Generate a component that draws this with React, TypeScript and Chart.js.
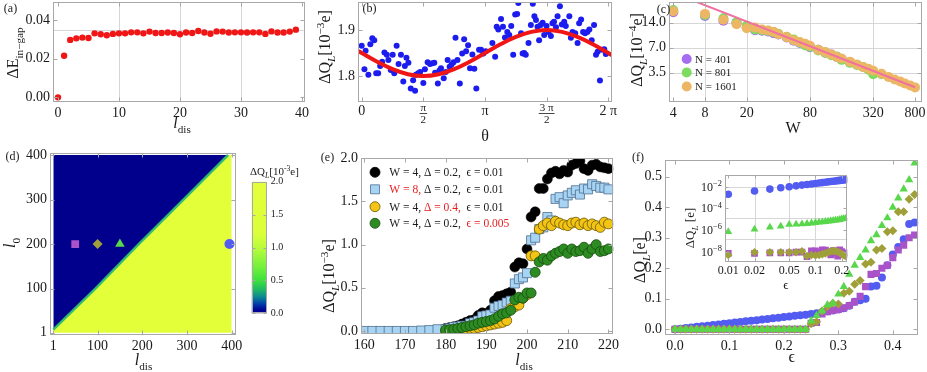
import React, { useEffect, useRef } from 'react';
import { Chart, registerables } from 'chart.js';

Chart.register(...registerables);

const FONT = '"Liberation Serif", "DejaVu Serif", serif';
const TXT = '#1a1a1a';
const FRAME = '#a8a8a8';

// ================= DATA =================
// (a)
const aLdis = [0, 1, 2, 3, 4, 5, 6, 7, 8, 9, 10, 11, 12, 13, 14, 15, 16, 17, 18, 19, 20, 21, 22, 23, 24, 25, 26, 27, 28, 29, 30, 31, 32, 33, 34, 35, 36, 37, 38, 39];
const aGap = [0, 0.0215, 0.0297, 0.0305, 0.0309, 0.0307, 0.0331, 0.0326, 0.0321, 0.0328, 0.0331, 0.0331, 0.0336, 0.0336, 0.0331, 0.034, 0.0333, 0.0333, 0.0335, 0.0333, 0.0326, 0.0335, 0.0333, 0.0343, 0.0335, 0.0329, 0.0341, 0.034, 0.0335, 0.0336, 0.0336, 0.0335, 0.0336, 0.0336, 0.0328, 0.0341, 0.0335, 0.0335, 0.034, 0.035];

// (b)
const bTheta = [0.00, 0.07, 0.10, 0.17, 0.22, 0.27, 0.32, 0.37, 0.42, 0.47, 0.52, 0.58, 0.64, 0.68, 0.74, 0.79, 0.83, 0.89, 0.94, 1.00, 1.06, 1.10, 1.14, 1.19, 1.25, 1.31, 1.36, 1.38, 1.44, 1.49, 1.57, 1.61, 1.68, 1.74, 1.80, 1.85, 1.87, 1.94, 1.98, 2.02, 2.09, 2.14, 2.19, 2.24, 2.29, 2.34, 2.39, 2.44, 2.50, 2.56, 2.61, 2.66, 2.71, 2.76, 2.82, 2.87, 2.92, 2.99, 3.04, 3.10, 3.16, 3.33, 3.40, 3.44, 3.48, 3.55, 3.60, 3.65, 3.71, 3.76, 3.81, 3.86, 3.91, 3.96, 3.99, 4.06, 4.10, 4.14, 4.18, 4.25, 4.31, 4.36, 4.40, 4.44, 4.48, 4.52, 4.56, 4.61, 4.65, 4.71, 4.76, 4.82, 4.86, 4.90, 4.95, 4.99, 5.05, 5.10, 5.16, 5.20, 5.29, 5.33, 5.37, 5.44, 5.50, 5.54, 5.59, 5.64, 5.69, 5.75, 5.80, 5.86, 5.92, 5.97, 6.01, 6.07, 6.12, 6.18, 6.22];
const bQ = [1.866, 1.815, 1.855, 1.803, 1.869, 1.882, 1.878, 1.806, 1.806, 1.822, 1.831, 1.851, 1.846, 1.835, 1.813, 1.846, 1.806, 1.866, 1.826, 1.846, 1.788, 1.822, 1.840, 1.829, 1.773, 1.791, 1.768, 1.803, 1.806, 1.809, 1.785, 1.815, 1.830, 1.826, 1.828, 1.829, 1.807, 1.784, 1.812, 1.817, 1.795, 1.809, 1.835, 1.820, 1.825, 1.830, 1.883, 1.835, 1.784, 1.849, 1.880, 1.854, 1.867, 1.817, 1.847, 1.816, 1.773, 1.857, 1.857, 1.849, 1.854, 1.872, 1.842, 1.907, 1.901, 1.924, 1.907, 1.884, 1.896, 1.889, 1.909, 1.846, 1.934, 1.935, 1.959, 1.893, 1.849, 1.850, 1.846, 1.872, 1.911, 1.957, 1.930, 1.922, 1.907, 1.878, 1.911, 1.916, 1.889, 1.909, 1.896, 1.887, 1.915, 1.918, 1.906, 1.930, 1.952, 1.912, 1.918, 1.909, 1.930, 1.883, 1.896, 1.893, 1.872, 1.915, 1.923, 1.896, 1.893, 1.896, 1.901, 1.878, 1.911, 1.846, 1.853, 1.790, 1.857, 1.858, 1.848];
const bFitTheta = [-0.1, 0, 0.393, 0.785, 1.178, 1.571, 1.963, 2.356, 2.749, 3.142, 3.534, 3.927, 4.320, 4.712, 5.105, 5.498, 5.890, 6.283, 6.38];
const bFitQ = [1.855, 1.850, 1.831, 1.815, 1.804, 1.800, 1.804, 1.815, 1.831, 1.850, 1.869, 1.885, 1.896, 1.900, 1.896, 1.885, 1.869, 1.850, 1.845];
const bTickVals = [0, Math.PI / 2, Math.PI, (3 * Math.PI) / 2, 2 * Math.PI];
const bTickNum = ['0', 'π', 'π', '3 π', '2 π'];
const bTickDen = ['', '2', '', '2', ''];

// (c)
const cN = [401, 801, 1601];
const cW401 = [4, 8, 12, 16, 20, 24, 28, 32, 36, 40, 48, 56, 64, 72, 80, 96, 112, 128, 144, 160, 192];
const cQ401 = [18.7, 16.9, 14.8, 14.0, 12.4, 11.4, 11.2, 11.0, 10.5, 10.1, 9.3, 8.5, 8.0, 7.6, 7.1, 6.6, 6.1, 5.8, 5.4, 5.1, 4.7];
const cW801 = [4, 8, 12, 16, 20, 24, 28, 32, 36, 40, 48, 56, 64, 72, 80, 96, 112, 128, 144, 160, 192, 224, 256, 288, 320, 384];
const cQ801 = [19.9, 17.4, 15.9, 14.2, 12.9, 11.6, 11.4, 11.2, 10.8, 10.3, 9.5, 8.8, 8.1, 7.5, 7.2, 6.5, 6.1, 5.7, 5.5, 5.0, 4.6, 4.35, 4.1, 3.8, 3.35, 3.35];
const cW1601 = [4, 8, 12, 16, 20, 24, 28, 32, 36, 40, 48, 56, 64, 72, 80, 96, 112, 128, 144, 160, 192, 224, 256, 288, 320, 384, 448, 512, 576, 640, 720, 800];
const cQ1601 = [19.3, 17.9, 15.2, 13.4, 12.0, 12.3, 11.6, 11.3, 10.9, 10.2, 9.4, 8.6, 8.2, 7.8, 7.4, 6.6, 6.2, 5.8, 5.4, 5.2, 4.75, 4.4, 4.1, 3.9, 3.7, 3.4, 3.1, 2.9, 2.75, 2.6, 2.45, 2.33];
const cFitW = [4, 800];
const cFitQ = [32.1, 2.335];

// (d)
const dBoundLdis = [1, 95, 192, 292, 392, 400];
const dBoundL0 = [8, 100, 200, 300, 400, 400];
const dMarkLdis = [50, 100, 150, 395];
const dMarkL0 = [200, 200, 200, 200];
const dBarMax = 2.0;

// (e)
const eLdisBlue = [160, 162, 164, 166, 168, 170, 172, 174, 176, 178, 180, 181, 182, 183, 184, 185, 186, 187, 188, 189, 190, 191, 192, 193, 194, 195, 196, 197, 198, 199, 200, 201, 202, 203, 204, 205, 206, 207, 208, 209, 210, 211, 212, 213, 214, 215, 216, 217, 218, 219, 220];
const eLdis = [180, 181, 182, 183, 184, 185, 186, 187, 188, 189, 190, 191, 192, 193, 194, 195, 196, 197, 198, 199, 200, 201, 202, 203, 204, 205, 206, 207, 208, 209, 210, 211, 212, 213, 214, 215, 216, 217, 218, 219, 220];
const eBlack = [0.03, 0.04, 0.05, 0.06, 0.08, 0.10, 0.12, 0.13, 0.18, 0.21, 0.20, 0.24, 0.35, 0.40, 0.41, 0.43, 0.45, 0.74, 0.79, 0.78, 0.95, 1.32, 1.38, 1.65, 1.65, 1.76, 1.83, 1.85, 1.82, 1.86, 1.84, 1.92, 1.94, 1.97, 1.88, 1.86, 1.92, 1.93, 1.90, 1.89, 1.88];
const eBlue = [0, 0, 0, 0, 0, 0, 0, 0.005, 0.01, 0.02, 0.02, 0.03, 0.045, 0.05, 0.06, 0.06, 0.09, 0.10, 0.12, 0.17, 0.18, 0.19, 0.27, 0.29, 0.30, 0.33, 0.35, 0.55, 0.60, 0.62, 0.67, 1.05, 1.08, 1.18, 1.20, 1.32, 1.28, 1.53, 1.55, 1.48, 1.57, 1.60, 1.63, 1.58, 1.65, 1.64, 1.70, 1.68, 1.66, 1.66, 1.64];
const eYellow = [0, 0, 0.005, 0.01, 0.01, 0.02, 0.03, 0.03, 0.04, 0.05, 0.06, 0.07, 0.08, 0.09, 0.10, 0.12, 0.26, 0.28, 0.30, 0.38, 0.42, 0.87, 0.87, 1.18, 1.22, 1.25, 1.22, 1.27, 1.25, 1.23, 1.22, 1.25, 1.26, 1.23, 1.25, 1.22, 1.24, 1.22, 1.20, 1.26, 1.24];
const eGreen = [0.01, 0.015, 0.02, 0.03, 0.04, 0.05, 0.06, 0.07, 0.09, 0.10, 0.11, 0.12, 0.14, 0.17, 0.20, 0.21, 0.24, 0.36, 0.39, 0.38, 0.44, 0.44, 0.68, 0.80, 0.84, 0.82, 0.87, 0.90, 0.92, 0.95, 0.90, 0.95, 0.92, 0.93, 0.97, 0.90, 0.95, 1.00, 0.92, 0.93, 0.95];

// (f)
const fEps = [0, 0.01, 0.02, 0.03, 0.04, 0.05, 0.06, 0.07, 0.08, 0.09, 0.1, 0.11, 0.12, 0.13, 0.14, 0.15, 0.16, 0.17, 0.18, 0.19, 0.2, 0.21, 0.22, 0.23, 0.24, 0.25, 0.26, 0.27, 0.28, 0.29, 0.3, 0.31, 0.32, 0.33, 0.34, 0.35, 0.36, 0.37, 0.38, 0.39, 0.4, 0.41, 0.42, 0.43, 0.44];
const fBlue = [0.0005, 0.002, 0.004, 0.006, 0.008, 0.010, 0.012, 0.014, 0.016, 0.018, 0.020, 0.022, 0.024, 0.026, 0.028, 0.030, 0.032, 0.034, 0.036, 0.038, 0.040, 0.042, 0.044, 0.046, 0.048, 0.050, 0.053, 0.056, 0.059, 0.062, 0.065, 0.069, 0.077, 0.090, 0.095, 0.100, 0.140, 0.143, 0.170, 0.210, 0.245, 0.270, 0.295, 0.345, 0.350];
const fPurple = [0, 7e-9, 7e-9, 8e-9, 8e-9, 8e-9, 9e-9, 9e-9, 3.5e-9, 1.2e-8, 1.2e-8, 8e-9, 1.5e-8, 1.4e-8, 1e-8, 5e-9, 1.3e-8, 7e-9, 4e-9, 1.5e-8, 1e-8, 6e-9, 8e-9, 9e-9, 1e-8, 0.020, 0.022, 0.050, 0.058, 0.062, 0.065, 0.070, 0.078, 0.090, 0.108, 0.140, 0.180, 0.183, 0.200, 0.210, 0.235, 0.260, 0.276, 0.300, 0.309];
const fOlive = [0, 5e-9, 9e-9, 9e-9, 9e-9, 9e-9, 9e-9, 1.1e-8, 4e-9, 5e-9, 4.5e-9, 5e-9, 6e-9, 7e-9, 9e-9, 1.1e-8, 1.2e-8, 1.1e-8, 1e-8, 8e-9, 6e-9, 5e-9, 4e-9, 5e-9, 6e-9, 0.018, 0.025, 0.060, 0.075, 0.085, 0.083, 0.118, 0.125, 0.148, 0.160, 0.214, 0.220, 0.260, 0.265, 0.320, 0.323, 0.385, 0.385, 0.426, 0.442];
const fGreen = [0, 7e-7, 1.2e-6, 1.8e-6, 2.2e-6, 3.2e-6, 3.4e-6, 3.6e-6, 3.9e-6, 4.3e-6, 4.8e-6, 5.2e-6, 5.6e-6, 6e-6, 6.5e-6, 7e-6, 7.5e-6, 8e-6, 8.5e-6, 9.2e-6, 1.05e-5, 1.1e-5, 1.15e-5, 1.2e-5, 1.25e-5, 0.028, 0.045, 0.060, 0.080, 0.085, 0.115, 0.140, 0.180, 0.210, 0.235, 0.260, 0.290, 0.310, 0.340, 0.365, 0.400, 0.430, 0.460, 0.490, 0.545];
const fInsetMax = 0.225;

// ================= STYLE =================
const RED = 'rgb(240,22,22)';
const BLUE_B = 'rgb(28,28,238)';
const C_COLS = ['rgb(165,110,240)', 'rgb(125,220,95)', 'rgb(236,182,100)'];
const PINK = 'rgb(240,112,162)';
const NAVY = 'rgb(0,0,140)';
const YEL = 'rgb(226,255,58)';
const MK_PURPLE = 'rgb(170,82,200)';
const MK_OLIVE = 'rgb(160,160,58)';
const MK_GREEN = 'rgb(88,215,75)';
const MK_BLUE = 'rgb(82,92,240)';
const E_BLUE = 'rgb(168,212,244)';
const E_YEL = 'rgb(242,196,22)';
const E_GRN = 'rgb(44,140,34)';
const RED_T = 'rgb(232,30,30)';

type Seg = [string, string?, string?];
type Txt = { x: number; y: number; s: Seg[]; size: number; align?: 'left' | 'center' | 'right'; rot?: boolean };

function fontFor(st: string, size: number) {
  const small = st.includes('b') || st.includes('p');
  const fs = small ? Math.round(size * 0.7 * 10) / 10 : size;
  return `${st.includes('i') ? 'italic ' : ''}${fs}px ${FONT}`;
}

function drawRich(ctx: CanvasRenderingContext2D, t: Txt) {
  ctx.save();
  let w = 0;
  for (const [s, st = ''] of t.s) {
    ctx.font = fontFor(st, t.size);
    w += ctx.measureText(s).width;
  }
  ctx.translate(t.x, t.y);
  if (t.rot) ctx.rotate(-Math.PI / 2);
  const al = t.align || 'center';
  let cx = al === 'center' ? -w / 2 : al === 'right' ? -w : 0;
  ctx.textAlign = 'left';
  ctx.textBaseline = 'alphabetic';
  const base = t.size * 0.34;
  for (const [s, st = '', col] of t.s) {
    ctx.font = fontFor(st, t.size);
    ctx.fillStyle = col || TXT;
    let dy = base;
    if (st.includes('b')) dy += t.size * 0.26;
    if (st.includes('p')) dy -= t.size * 0.4;
    ctx.fillText(s, cx, dy);
    cx += ctx.measureText(s).width;
  }
  ctx.restore();
}

function marker(ctx: CanvasRenderingContext2D, kind: string, x: number, y: number, r: number, fill: string, stroke?: string) {
  ctx.save();
  ctx.beginPath();
  if (kind === 'rect') ctx.rect(x - r, y - r, 2 * r, 2 * r);
  else ctx.arc(x, y, r, 0, Math.PI * 2);
  ctx.fillStyle = fill;
  ctx.fill();
  if (stroke) {
    ctx.strokeStyle = stroke;
    ctx.lineWidth = 0.8;
    ctx.stroke();
  }
  ctx.restore();
}

type Deco = {
  gridX?: number[];
  gridY?: number[];
  tickX?: number[];
  tickY?: number[];
  texts?: Txt[];
  fill?: string;
  tickLen?: number;
  extra?: (c: any) => void;
};

function deco(d: Deco) {
  return {
    id: 'deco',
    beforeDatasetsDraw(c: any) {
      const { ctx, chartArea: a, scales } = c;
      ctx.save();
      if (d.fill) {
        ctx.fillStyle = d.fill;
        ctx.fillRect(a.left, a.top, a.right - a.left, a.bottom - a.top);
      }
      ctx.strokeStyle = '#d6d6d6';
      ctx.lineWidth = 1;
      ctx.beginPath();
      for (const v of d.gridX || []) {
        const p = Math.round(scales.x.getPixelForValue(v)) + 0.5;
        ctx.moveTo(p, a.top);
        ctx.lineTo(p, a.bottom);
      }
      for (const v of d.gridY || []) {
        const p = Math.round(scales.y.getPixelForValue(v)) + 0.5;
        ctx.moveTo(a.left, p);
        ctx.lineTo(a.right, p);
      }
      ctx.stroke();
      ctx.restore();
    },
    afterDatasetsDraw(c: any) {
      const { ctx, chartArea: a, scales } = c;
      const len = d.tickLen ?? 4;
      ctx.save();
      ctx.strokeStyle = FRAME;
      ctx.lineWidth = 1;
      const L = Math.round(a.left) + 0.5;
      const R = Math.round(a.right) - 0.5;
      const T = Math.round(a.top) + 0.5;
      const B = Math.round(a.bottom) - 0.5;
      ctx.strokeRect(L, T, R - L, B - T);
      ctx.beginPath();
      for (const v of d.tickX || []) {
        const p = Math.round(scales.x.getPixelForValue(v)) + 0.5;
        ctx.moveTo(p, B);
        ctx.lineTo(p, B - len);
        ctx.moveTo(p, T);
        ctx.lineTo(p, T + len);
      }
      for (const v of d.tickY || []) {
        const p = Math.round(scales.y.getPixelForValue(v)) + 0.5;
        ctx.moveTo(L, p);
        ctx.lineTo(L + len, p);
        ctx.moveTo(R, p);
        ctx.lineTo(R - len, p);
      }
      ctx.stroke();
      ctx.restore();
    },
    afterDraw(c: any) {
      const ctx = c.ctx;
      for (const t of d.texts || []) drawRich(ctx, t);
      if (d.extra) d.extra(c);
    },
  };
}

function ax(o: {
  min: number;
  max: number;
  ticks: number[];
  fmt?: (v: number) => string;
  size: number;
  log?: boolean;
  pos: 'left' | 'right' | 'bottom';
  font?: number;
  hide?: boolean;
  pad?: number;
}) {
  return {
    type: o.log ? 'logarithmic' : 'linear',
    position: o.pos,
    min: o.min,
    max: o.max,
    bounds: 'data',
    grid: { display: false, drawTicks: false },
    border: { display: false },
    ticks: {
      display: !o.hide,
      autoSkip: false,
      maxRotation: 0,
      minRotation: 0,
      padding: o.pad ?? 3,
      font: { family: FONT, size: o.font ?? 14 },
      color: TXT,
      callback: (v: number) => (o.fmt ? o.fmt(v) : String(v)),
    },
    afterBuildTicks: (s: any) => {
      s.ticks = o.ticks.map((v) => ({ value: v }));
    },
    afterFit: (s: any) => {
      if (o.pos === 'bottom') s.height = o.size;
      else s.width = o.size;
      s.paddingLeft = 0;
      s.paddingRight = 0;
      s.paddingTop = 0;
      s.paddingBottom = 0;
    },
  };
}

function lay(L: number, T: number, W: number, H: number, fl: number, ft: number, fr: number, fb: number) {
  return { L, T, W, H, padTop: ft - T, padRight: L + W - fr, yW: fl - L, xH: T + H - fb };
}

function opts(l: any, scales: any, padLeft = 0, padBottom = 0) {
  return {
    animation: false,
    responsive: false,
    maintainAspectRatio: false,
    events: [],
    layout: { autoPadding: false, padding: { left: padLeft, top: l.padTop, right: l.padRight, bottom: padBottom } },
    plugins: { legend: { display: false }, tooltip: { enabled: false }, title: { display: false } },
    scales,
  };
}

const pts = (xs: number[], ys: number[]) => xs.map((x, i) => ({ x, y: ys[i] }));
const f1 = (v: number) => v.toFixed(1);
const f2 = (v: number) => v.toFixed(2);

const Q_TITLE = (exp: string): Seg[] => [['ΔQ'], ['L', 'ib'], ['[10'], [exp, 'p'], ['e]']];

// ================= PANELS =================
const LA = lay(0, 0, 315, 140, 53, 2, 305, 102);
const cfgA = () => ({
  type: 'scatter',
  data: { datasets: [{ data: pts(aLdis, aGap), pointRadius: 3.2, pointBackgroundColor: RED, pointBorderWidth: 0 }] },
  options: opts(LA, {
    x: ax({ min: -0.82, max: 40.5, ticks: [0, 10, 20, 30, 40], size: LA.xH, pos: 'bottom' }),
    y: ax({ min: -0.0024, max: 0.0493, ticks: [0, 0.02, 0.04], fmt: f2, size: LA.yW, pos: 'left' }),
  }),
  plugins: [
    deco({
      gridX: [10, 20, 30],
      gridY: [0.035],
      tickX: [0, 10, 20, 30, 40],
      tickY: [0, 0.02, 0.04],
      texts: [
        { x: 10.5, y: 7.5, s: [['(a)']], size: 12 },
        { x: 13, y: 53, s: [['ΔE'], ['in−gap', 'b']], size: 16, rot: true },
        { x: 182, y: 123, s: [['l', 'i'], ['dis', 'b']], size: 16 },
      ],
    }),
  ],
});

const LB = lay(315, 0, 310, 142, 358, 2, 612, 102);
const cfgB = () => ({
  type: 'scatter',
  data: {
    datasets: [
      { type: 'line', data: pts(bFitTheta, bFitQ), borderColor: RED, borderWidth: 4, pointRadius: 0, tension: 0.4, order: 0 },
      { data: pts(bTheta, bQ), pointRadius: 3, pointBackgroundColor: BLUE_B, pointBorderWidth: 0, order: 1 },
    ],
  },
  options: opts(LB, {
    x: ax({ min: -0.094, max: 6.377, ticks: bTickVals, size: LB.xH, pos: 'bottom', hide: true }),
    y: ax({ min: 1.7435, max: 1.961, ticks: [1.8, 1.9], fmt: f1, size: LB.yW, pos: 'left' }),
  }),
  plugins: [
    deco({
      tickX: bTickVals,
      tickY: [1.8, 1.9],
      texts: [
        { x: 54.5, y: 8, s: [['(b)']], size: 12 },
        { x: 10, y: 47, s: Q_TITLE('−3'), size: 16, rot: true },
        { x: 170, y: 136, s: [['θ']], size: 16 },
      ],
      extra: (c: any) => {
        const ctx = c.ctx;
        bTickVals.forEach((v, i) => {
          const px = c.scales.x.getPixelForValue(v);
          if (bTickDen[i]) {
            drawRich(ctx, { x: px, y: 107.5, s: [[bTickNum[i]]], size: 11 });
            ctx.save();
            ctx.fillStyle = TXT;
            ctx.font = `11px ${FONT}`;
            const w = ctx.measureText(bTickNum[i]).width + 2;
            ctx.fillRect(px - w / 2, 113, w, 0.8);
            ctx.restore();
            drawRich(ctx, { x: px, y: 119.5, s: [[bTickDen[i]]], size: 11 });
          } else {
            drawRich(ctx, { x: px, y: 110, s: [[bTickNum[i]]], size: 14 });
          }
        });
      },
    }),
  ],
});

const LC = lay(622, 0, 305, 140, 669, 2, 921.7, 101.7);
const cfgC = () => ({
  type: 'scatter',
  data: {
    datasets: [
      { type: 'line', data: pts(cFitW, cFitQ), borderColor: PINK, borderWidth: 2, pointRadius: 0, order: 0 },
      { data: pts(cW401, cQ401), pointRadius: 5, pointBackgroundColor: C_COLS[0], pointBorderWidth: 0, order: 3 },
      { data: pts(cW801, cQ801), pointRadius: 5, pointBackgroundColor: C_COLS[1], pointBorderWidth: 0, order: 2 },
      { data: pts(cW1601, cQ1601), pointRadius: 5, pointBackgroundColor: C_COLS[2], pointBorderWidth: 0, order: 1 },
    ],
  },
  options: opts(LC, {
    x: ax({ min: 3.64, max: 926, ticks: [4, 8, 20, 80, 320, 800], size: LC.xH, pos: 'bottom', log: true }),
    y: ax({ min: 1.566, max: 24.9, ticks: [3.5, 7, 14], fmt: f1, size: LC.yW, pos: 'left', log: true }),
  }),
  plugins: [
    deco({
      gridX: [8, 20, 80, 320],
      gridY: [3.5, 7, 14],
      tickX: [4, 8, 20, 80, 320, 800],
      tickY: [3.5, 7, 14],
      texts: [
        { x: 41.5, y: 8.5, s: [['(c)']], size: 12 },
        { x: 15, y: 50, s: Q_TITLE('−4'), size: 16, rot: true },
        { x: 171, y: 128, s: [['W']], size: 16 },
      ],
      extra: (c: any) => {
        const ctx = c.ctx;
        const ys = [59, 72.5, 86.5];
        cN.forEach((n, i) => {
          marker(ctx, 'circle', 64.7, ys[i], 5, C_COLS[i]);
          drawRich(ctx, { x: 73, y: ys[i], s: [[`N = ${n}`]], size: 11, align: 'left' });
        });
      },
    }),
  ],
});

const LD = lay(0, 140, 245, 232, 50, 153.3, 236, 335);
const cfgD = () => ({
  type: 'scatter',
  data: {
    datasets: [
      { type: 'line', data: pts(dBoundLdis, dBoundL0), fill: { value: 400 }, backgroundColor: NAVY, borderWidth: 0, pointRadius: 0, order: 5 },
      { type: 'line', data: pts(dBoundLdis, dBoundL0), fill: { value: 1 }, backgroundColor: YEL, borderWidth: 0, pointRadius: 0, order: 4 },
      { type: 'line', data: pts(dBoundLdis.slice(0, 5), dBoundL0.slice(0, 5)), fill: false, borderColor: 'rgba(45,185,115,0.95)', borderWidth: 2.5, pointRadius: 0, order: 3 },
      {
        data: pts(dMarkLdis, dMarkL0),
        pointStyle: ['rect', 'rectRot', 'triangle', 'circle'],
        pointRadius: [5.5, 5, 5.5, 5],
        pointBackgroundColor: [MK_PURPLE, MK_OLIVE, MK_GREEN, MK_BLUE],
        pointBorderWidth: 0,
        order: 1,
      },
    ],
  },
  options: opts(LD, {
    x: ax({ min: -6.4, max: 409.6, ticks: [1, 100, 200, 300, 400], size: LD.xH, pos: 'bottom' }),
    y: ax({ min: -4.2, max: 403.8, ticks: [1, 100, 200, 300, 400], size: LD.yW, pos: 'left' }),
  }),
  plugins: [
    deco({
      tickX: [1, 100, 200, 300, 400],
      tickY: [1, 100, 200, 300, 400],
      texts: [
        { x: 12.5, y: 16, s: [['(d)']], size: 12 },
        { x: 10, y: 103, s: [['l', 'i'], ['0', 'b']], size: 16, rot: true },
        { x: 143.5, y: 220, s: [['l', 'i'], ['dis', 'b']], size: 16 },
      ],
    }),
  ],
});

const CB_STOPS: [number, string][] = [
  [0, 'rgb(0,0,140)'],
  [0.03, 'rgb(0,8,150)'],
  [0.07, 'rgb(0,60,170)'],
  [0.12, 'rgb(10,130,150)'],
  [0.18, 'rgb(30,185,100)'],
  [0.25, 'rgb(60,225,60)'],
  [0.35, 'rgb(115,240,60)'],
  [0.5, 'rgb(185,252,60)'],
  [0.6, 'rgb(218,255,58)'],
  [1, 'rgb(228,255,58)'],
];
const LCB = { padTop: 21.7, padRight: 0 };
const cfgCB = () => ({
  type: 'bar',
  data: {
    labels: [''],
    datasets: [
      {
        data: [dBarMax],
        barPercentage: 1,
        categoryPercentage: 1,
        borderWidth: 0,
        backgroundColor: (cx: any) => {
          const { ctx, chartArea } = cx.chart;
          if (!chartArea) return NAVY;
          const g = ctx.createLinearGradient(0, chartArea.bottom, 0, chartArea.top);
          for (const [p, col] of CB_STOPS) g.addColorStop(p, col);
          return g;
        },
      },
    ],
  },
  options: opts(
    LCB,
    {
      x: { type: 'category', display: false },
      y: ax({ min: 0, max: 2, ticks: [0, 0.5, 1, 1.5, 2], fmt: f1, size: 58.3, pos: 'right', font: 10, pad: 4 }),
    },
    6.7,
    11.7
  ),
  plugins: [
    deco({
      tickY: [0, 0.5, 1, 1.5, 2],
      tickLen: 3,
      texts: [{ x: 5, y: 11.7, s: Q_TITLE('-3'), size: 11, align: 'left' }],
    }),
  ],
});

const LE = lay(310, 140, 310, 232, 361, 158.3, 613.3, 334);
const eLegend: { mk: string; fill: string; stroke: string; s: Seg[] }[] = [
  { mk: 'circle', fill: '#000', stroke: '#000', s: [['W = 4, Δ = 0.2,  ϵ = 0.01']] },
  { mk: 'rect', fill: E_BLUE, stroke: '#4f6f8f', s: [['W = 8,', '', RED_T], [' Δ = 0.2,  ϵ = 0.01']] },
  { mk: 'circle', fill: E_YEL, stroke: '#6b5500', s: [['W = 4, '], ['Δ = 0.4,', '', RED_T], ['  ϵ = 0.01']] },
  { mk: 'circle', fill: E_GRN, stroke: '#1a4a10', s: [['W = 4, Δ = 0.2,  '], ['ϵ = 0.005', '', RED_T]] },
];
const cfgE = () => ({
  type: 'scatter',
  data: {
    datasets: [
      { data: pts(eLdis, eBlack), pointRadius: 5, pointBackgroundColor: '#000', pointBorderColor: '#000', pointBorderWidth: 0.5, order: 4 },
      { data: pts(eLdisBlue, eBlue), pointStyle: 'rect', pointRadius: 6.4, pointBackgroundColor: E_BLUE, pointBorderColor: '#4f6f8f', pointBorderWidth: 0.8, order: 3 },
      { data: pts(eLdis, eYellow), pointRadius: 5, pointBackgroundColor: E_YEL, pointBorderColor: '#6b5500', pointBorderWidth: 0.8, order: 2 },
      { data: pts(eLdis, eGreen), pointRadius: 5, pointBackgroundColor: E_GRN, pointBorderColor: '#1a4a10', pointBorderWidth: 0.8, order: 1 },
    ],
  },
  options: opts(LE, {
    x: ax({ min: 159.2, max: 221.2, ticks: [160, 170, 180, 190, 200, 210, 220], size: LE.xH, pos: 'bottom' }),
    y: ax({ min: -0.035, max: 2.0, ticks: [0, 0.5, 1, 1.5, 2], fmt: f1, size: LE.yW, pos: 'left' }),
  }),
  plugins: [
    deco({
      tickX: [160, 170, 180, 190, 200, 210, 220],
      tickY: [0, 0.5, 1, 1.5, 2],
      texts: [
        { x: 17.5, y: 17, s: [['(e)']], size: 12 },
        { x: 19, y: 136, s: Q_TITLE('−3'), size: 16, rot: true },
        { x: 214, y: 220, s: [['l', 'i'], ['dis', 'b']], size: 16 },
      ],
      extra: (c: any) => {
        const ctx = c.ctx;
        const ys = [32.3, 49.3, 66.7, 83.3];
        eLegend.forEach((e, i) => {
          marker(ctx, e.mk, 65, ys[i], e.mk === 'rect' ? 4.5 : 5, e.fill, e.stroke);
          drawRich(ctx, { x: 79.3, y: ys[i], s: e.s, size: 11.5, align: 'left' });
        });
      },
    }),
  ],
});

const F_SERIES = [
  { y: fBlue, style: 'circle', r: 4, col: MK_BLUE, order: 4 },
  { y: fPurple, style: 'rect', r: 5, col: MK_PURPLE, order: 3 },
  { y: fOlive, style: 'rectRot', r: 4.5, col: MK_OLIVE, order: 2 },
  { y: fGreen, style: 'triangle', r: 4.8, col: MK_GREEN, order: 1 },
];

const LF = lay(620, 140, 307, 232, 665, 160, 918.3, 335);
const cfgF = () => ({
  type: 'scatter',
  data: {
    datasets: F_SERIES.map((s) => ({
      data: pts(fEps, s.y),
      pointStyle: s.style,
      pointRadius: s.r,
      pointBackgroundColor: s.col,
      pointBorderWidth: 0,
      order: s.order,
    })),
  },
  options: opts(LF, {
    x: ax({ min: -0.0183, max: 0.4468, ticks: [0, 0.1, 0.2, 0.3, 0.4], fmt: f1, size: LF.xH, pos: 'bottom' }),
    y: ax({ min: -0.0187, max: 0.555, ticks: [0, 0.1, 0.2, 0.3, 0.4, 0.5], fmt: f1, size: LF.yW, pos: 'left' }),
  }),
  plugins: [
    deco({
      tickX: [0, 0.1, 0.2, 0.3, 0.4],
      tickY: [0, 0.1, 0.2, 0.3, 0.4, 0.5],
      texts: [
        { x: 18, y: 17, s: [['(f)']], size: 12 },
        { x: 20, y: 120, s: [['ΔQ'], ['L', 'ib'], ['[e]']], size: 16, rot: true },
        { x: 171.7, y: 216.7, s: [['ϵ']], size: 16 },
      ],
    }),
  ],
});

const LI = lay(680, 165, 175, 125, 725, 175, 847.3, 261.7);
const insetTicks = [1e-8, 1e-6, 1e-4, 1e-2];
const insetExp = ['−8', '−6', '−4', '−2'];
const cfgI = () => ({
  type: 'scatter',
  data: {
    datasets: F_SERIES.map((s) => {
      const xs: number[] = [];
      const ys: number[] = [];
      fEps.forEach((e, i) => {
        if (e > 0 && e <= fInsetMax) {
          xs.push(e);
          ys.push(s.y[i]);
        }
      });
      return {
        data: pts(xs, ys),
        pointStyle: s.style,
        pointRadius: s.r * 0.95,
        pointBackgroundColor: s.col,
        pointBorderWidth: 0,
        order: s.order,
      };
    }),
  },
  options: opts(LI, {
    x: ax({ min: 0.00917, max: 0.232, ticks: [0.01, 0.02, 0.05, 0.1, 0.2], size: LI.xH, pos: 'bottom', log: true, font: 12, pad: 2 }),
    y: ax({ min: 1.2e-9, max: 0.12, ticks: insetTicks, size: LI.yW, pos: 'left', log: true, hide: true }),
  }),
  plugins: [
    deco({
      fill: '#fff',
      gridX: [0.02, 0.05, 0.1],
      gridY: [1e-2, 1.2e-5, 1.4e-7],
      tickX: [0.01, 0.02, 0.05, 0.1, 0.2],
      tickY: insetTicks,
      tickLen: 3,
      texts: [
        { x: 10, y: 63, s: [['ΔQ'], ['L', 'ib'], [' [e]']], size: 13, rot: true },
        { x: 106, y: 120, s: [['ϵ']], size: 13 },
      ],
      extra: (c: any) => {
        insetTicks.forEach((v, i) => {
          drawRich(c.ctx, { x: 42, y: c.scales.y.getPixelForValue(v), s: [['10'], [insetExp[i], 'p']], size: 12, align: 'right' });
        });
      },
    }),
  ],
});

function ChartBox({ L, T, W, H, cfg }: { L: number; T: number; W: number; H: number; cfg: () => any }) {
  const ref = useRef<HTMLCanvasElement>(null);
  useEffect(() => {
    const ch = new Chart(ref.current as HTMLCanvasElement, cfg());
    return () => ch.destroy();
  }, []);
  return (
    <canvas
      ref={ref}
      width={W}
      height={H}
      style={{ position: 'absolute', left: L, top: T, width: W, height: H, display: 'block' }}
    />
  );
}

export default function App() {
  return (
    <div style={{ position: 'absolute', left: 0, top: 0, width: 927, height: 372, background: '#fff', overflow: 'hidden' }}>
      <ChartBox L={LA.L} T={LA.T} W={LA.W} H={LA.H} cfg={cfgA} />
      <ChartBox L={LB.L} T={LB.T} W={LB.W} H={LB.H} cfg={cfgB} />
      <ChartBox L={LC.L} T={LC.T} W={LC.W} H={LC.H} cfg={cfgC} />
      <ChartBox L={LD.L} T={LD.T} W={LD.W} H={LD.H} cfg={cfgD} />
      <ChartBox L={245} T={160} W={80} H={165} cfg={cfgCB} />
      <ChartBox L={LE.L} T={LE.T} W={LE.W} H={LE.H} cfg={cfgE} />
      <ChartBox L={LF.L} T={LF.T} W={LF.W} H={LF.H} cfg={cfgF} />
      <ChartBox L={LI.L} T={LI.T} W={LI.W} H={LI.H} cfg={cfgI} />
    </div>
  );
}
